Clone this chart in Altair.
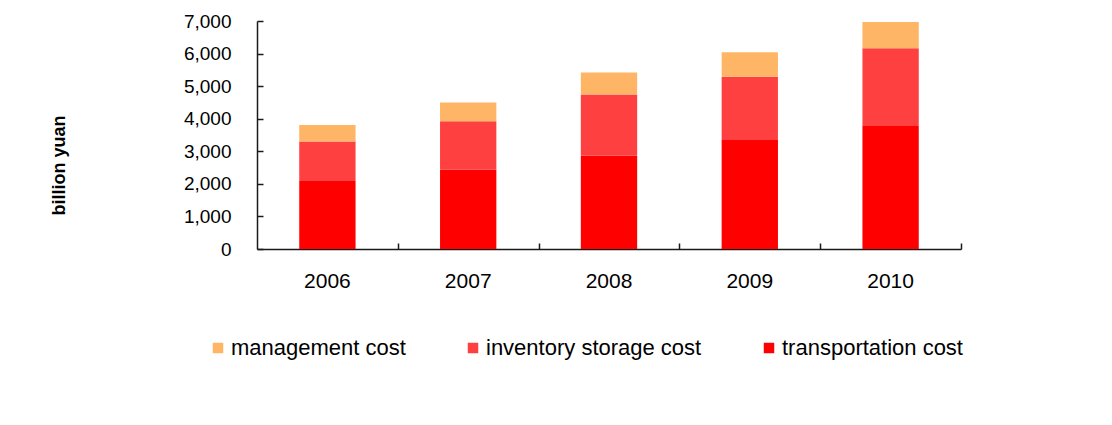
import altair as alt
import pandas as pd

years = ["2006", "2007", "2008", "2009", "2010"]
series = ["management cost", "inventory storage cost", "transportation cost"]
transport = [2090, 2430, 2860, 3350, 3780]
inventory = [1210, 1490, 1880, 1940, 2380]
management = [510, 580, 680, 750, 810]
colors = ["#FFB566", "#FF4040", "#FF0000"]
y_ticks = [0, 1000, 2000, 3000, 4000, 5000, 6000, 7000]

rows = []
for i, yr in enumerate(years):
    rows.append({"year": yr, "series": "transportation cost", "value": transport[i], "ord": 0})
    rows.append({"year": yr, "series": "inventory storage cost", "value": inventory[i], "ord": 1})
    rows.append({"year": yr, "series": "management cost", "value": management[i], "ord": 2})
df = pd.DataFrame(rows)

FONT = "Liberation Sans"
W, H = 704, 228
STEP = W / 5.0

xscale = alt.Scale(domain=years, paddingInner=0.6, paddingOuter=0.3)
yscale = alt.Scale(domain=[0, 7000], nice=False, zero=True)

bars = alt.Chart(df).mark_bar().encode(
    x=alt.X("year:N", scale=xscale, sort=years,
            axis=alt.Axis(title=None, labelAngle=0, ticks=False, tickSize=0,
                          labelPadding=21, labelFontSize=21, labelFont=FONT,
                          labelColor="#000000", domainColor="#1a1a1a",
                          domainWidth=1.5, labelBaseline="top")),
    y=alt.Y("value:Q", stack="zero", scale=yscale,
            axis=alt.Axis(title="billion yuan", values=y_ticks, format=",d",
                          ticks=False, tickSize=0, labelPadding=26,
                          labelFontSize=19, labelFont=FONT, labelColor="#000000",
                          domainColor="#1a1a1a", domainWidth=1.5, grid=False,
                          titleFont=FONT, titleFontSize=18, titleFontWeight="bold",
                          titleAngle=270, titleX=-198, titleY=144,
                          titleAlign="center", titleBaseline="middle",
                          titleColor="#000000")),
    color=alt.Color("series:N",
                    scale=alt.Scale(domain=series, range=colors),
                    legend=alt.Legend(title=None, orient="none", direction="horizontal",
                                      legendX=-50, legendY=316, columnPadding=56,
                                      symbolType="square", symbolSize=110,
                                      symbolStrokeWidth=0, labelOffset=2,
                                      labelFontSize=22, labelFont=FONT, labelLimit=600,
                                      labelColor="#000000", padding=0)),
    order=alt.Order("ord:Q", sort="ascending"),
)

tick_layer = alt.Chart(df).mark_bar(opacity=0).encode(
    x=alt.X("year:N", scale=xscale, sort=years,
            axis=alt.Axis(orient="top", offset=-H, title=None, labels=False,
                          domain=False, ticks=True, tickSize=6, tickOffset=STEP / 2,
                          tickColor="#1a1a1a", tickWidth=1.5)),
    y=alt.Y("value:Q", stack="zero", scale=yscale,
            axis=alt.Axis(orient="right", offset=-W, title=None, labels=False,
                          domain=False, values=y_ticks, ticks=True, tickSize=6,
                          tickColor="#1a1a1a", tickWidth=1.5, grid=False)),
)

chart = alt.layer(bars, tick_layer).resolve_scale(
    x="independent", y="independent"
).properties(
    width=W, height=H,
    autosize=alt.AutoSizeParams(type="none"),
    padding={"left": 249, "top": 13, "right": 143, "bottom": 168},
).configure(background="#ffffff").configure_view(stroke=None)

chart.save("out.html", embed_options={"renderer": "svg", "actions": False})
